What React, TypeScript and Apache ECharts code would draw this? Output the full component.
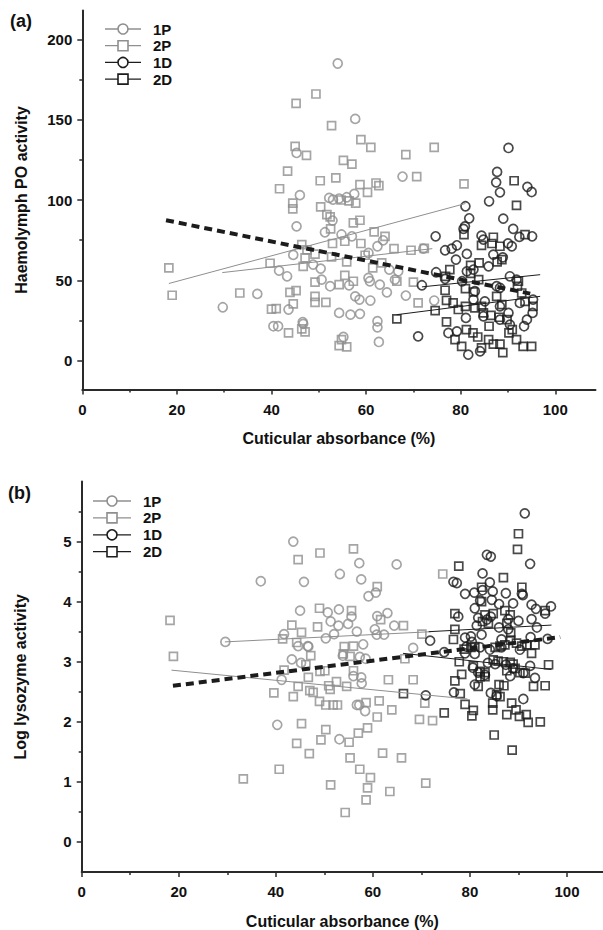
import React, { useEffect, useRef } from "react";
import * as echarts from "echarts";

// ---------- Panel (a): Haemolymph PO activity ----------
const a1P: number[][] = [
  [29.7,33.2],[37,41.5],[41.6,56],[43.3,52.5],[45.3,129.3],[46,103],[45.3,83.6],[44.6,65.8],[40.4,21.4],[41.4,21.4],
  [43.6,31.8],[46.7,22.9],[54,185],[57.7,150.5],[67.7,114.6],[52.2,101.3],[53,100.2],[54.3,100.9],[55.9,101.7],[57.5,103.8],
  [52.9,87.2],[51.3,79.9],[54.8,78.5],[57,77.4],[63.6,74.9],[62.4,71.2],[72.1,69.7],[60.5,67],[48.8,59.8],[50.4,57.3],
  [64.9,56.7],[66.8,55.6],[66.1,50.4],[60.5,51.5],[60.8,49.4],[52.4,46.3],[56.4,46.9],[62.9,47.3],[64.4,42.5],[68.4,40.5],
  [57.7,40],[58.6,38],[60.9,37.4],[74.4,37.4],[54.3,29.7],[56.7,28.6],[58.7,29.1],[62.4,24.5],[62.4,20.7],[46.6,24],
  [62.7,11.6],[55.2,14.7],[50.6,50.4]
];
const a2P: number[][] = [
  [18.3,57.7],[19,40.7],[33.3,42.1],[39.7,60.6],[41,32.4],[40,32],[43.4,118],[41.7,107],[44.5,98],[44.5,94.5],
  [46.4,72.2],[47.1,64],[46.7,58.7],[44.6,35.3],[43.9,42.5],[45.2,43.6],[43.6,17.2],[47.1,17.9],[45.2,160.2],[45,133.4],
  [47.4,127.8],[52.7,146.3],[58.9,137.6],[61,132.8],[74.4,132.8],[68.4,128.3],[55.2,124.7],[57,122.4],[50.3,112],[53.6,113.8],
  [58.7,109.6],[62.1,110.6],[62.7,109],[60.3,104.8],[80.7,110],[70.7,114.6],[54.7,100],[56.4,99.5],[57.8,98],[50.4,95.7],
  [51.7,90.9],[52.4,89.5],[58.7,87.4],[57.3,85.7],[52.5,82],[61.7,80.1],[64,77.4],[55.5,74.3],[58.9,72.9],[52.9,72.9],
  [65.9,69.7],[69.5,68.7],[72.3,69.9],[47.5,69],[59.8,65.6],[55.9,61.5],[52.7,64.6],[49.2,66.3],[63.3,60.8],[61.4,57.7],
  [66.5,49.4],[55.5,53.1],[57.3,49.4],[49.2,48.8],[54.3,47.3],[70,48.8],[49.2,40],[51.5,36.3],[49.2,36.3],[71,35.9],
  [46.4,19.7],[54.3,9.3],[55.9,8.5],[54.8,13],[49.4,166]
];
const a1D: number[][] = [
  [90.1,132.4],[87.7,117.5],[87.5,111],[88.3,104.8],[94.1,108.2],[95,105],[86,99.2],[81,96.1],[81.8,88.6],[89,88.4],
  [80.9,83.6],[80.6,82],[91.1,82],[95.1,77.4],[92.4,77],[74.7,77.4],[84.4,77.8],[84.8,75.3],[79.2,71.8],[78.1,69.7],
  [76.7,68.7],[81.3,66.4],[79,62.9],[86.9,66],[88.9,64.3],[90.8,71.2],[90,73],[85.9,58.7],[74.8,55],[81.3,55.6],
  [82.7,56.7],[76.7,50.9],[71.8,46.9],[80.3,49.4],[90.4,52.5],[91.8,50.4],[87.6,46.3],[88.3,45.3],[83,43.2],[82.7,38],
  [85.1,36.9],[88.3,33.8],[90.1,29.7],[92.5,35.9],[81.1,26.6],[84.8,27.6],[88.3,25.5],[94,25.5],[93.4,21.4],[90.4,22.4],
  [77.4,17.2],[79.2,18.2],[71,15.1],[84.1,5.8],[81.6,3.7],[95.3,38],[95.2,29.7]
];
const a2D: number[][] = [
  [91.3,112],[91.8,96.7],[80.7,78.5],[86.9,76.8],[86.6,72.9],[88.3,71.2],[84.4,71.8],[93.6,78.5],[88.7,62.9],[87.7,61.5],
  [83.9,60.8],[82.1,59.3],[77.7,56.7],[76.8,52.5],[82.1,54.3],[83.8,50.4],[92.2,49.4],[92,46.3],[76.7,43.8],[81,44.8],
  [82.7,42.7],[87.6,40],[92.9,42.1],[77,37.5],[78.4,35.9],[74.6,31.1],[66.5,26],[79.5,31.8],[81,33.8],[83,32.8],
  [88.7,34.9],[93.6,36.9],[95.3,33.8],[84.4,33.8],[84.8,29.7],[77,24.1],[86.4,28.1],[88.1,27],[89.8,25.5],[90.9,19.3],
  [78.8,13],[80.2,8.9],[82.6,17.2],[83.6,14.7],[85.9,13],[86.9,10.2],[88.3,10.2],[88.9,5],[91.8,13],[93.2,8.9],
  [95,8.9],[84.4,7.9],[90.2,17.2],[86,21.4],[81.2,19.3]
];
const aFit1P = [[29.6,54.8],[74,69.7]];
const aFit2P = [[18.3,48],[81,97.8]];
const aFit1D = [[71.8,45.9],[96.8,53.5]];
const aFit2D = [[66.5,28.6],[96.8,40]];
const aFitAll = [[17.7,87.4],[94.7,41.7]];

// ---------- Panel (b): Log lysozyme activity ----------
const b1P: number[][] = [
  [29.6,3.33],[36.9,4.34],[43.6,5.0],[45,3.85],[41.7,3.46],[44.6,3.26],[46.6,3.26],[43.3,3.04],[45.2,2.98],[41.2,2.7],
  [40.3,1.95],[57.2,4.64],[64.9,4.62],[53.2,4.46],[57.6,4.37],[45.8,4.33],[59.1,4.09],[60.6,4.15],[50.7,3.82],[53,3.87],
  [55.6,3.75],[60.9,3.76],[63,3.81],[51.3,3.67],[54.9,3.63],[52.9,3.6],[52,3.46],[50.3,3.39],[56.7,3.5],[60.4,3.54],
  [62.3,3.45],[64.4,3.6],[60.8,3.45],[46.7,3.25],[58,3.29],[68.3,3.23],[53.8,3.1],[57.3,3.08],[58.5,3.05],[56,2.76],
  [57.6,2.74],[57.7,2.64],[56.7,2.28],[58.4,2.18],[57.2,2.28],[53.1,1.71]
];
const b2P: number[][] = [
  [18.2,3.69],[18.9,3.09],[44.6,4.7],[43.3,3.61],[41.4,3.38],[44.3,3.32],[33.3,1.05],[40.7,1.21],[39.6,2.48],[41.7,2.86],
  [43.6,2.42],[45.3,1.97],[44.3,1.64],[46.9,1.47],[49.3,1.7],[50.3,1.87],[51.3,0.95],[44.6,2.59],[46.7,2.74],[47,2.52],
  [47.7,2.49],[49,2.34],[50.3,2.28],[49.1,2.84],[50.1,2.85],[50.9,2.6],[46.2,2.95],[47.2,3.1],[45.3,3.49],[48.6,3.58],
  [49,3.89],[49.1,4.81],[56,4.88],[74.4,4.46],[60.9,4.25],[55.6,3.85],[66.3,3.6],[70.1,3.46],[61.6,3.7],[54.1,3.25],
  [56,3.26],[53.9,3.13],[55.3,3.09],[56,2.85],[66.6,3.05],[63.2,2.7],[68.3,2.7],[52.5,2.67],[54.6,2.59],[51.2,2.54],
  [58.6,2.32],[61.3,2.35],[51.8,2.28],[52.7,2.28],[63.9,2.2],[60.9,2.08],[70.7,2.31],[69.6,2.04],[72.3,2.02],[58.9,1.9],
  [57,1.81],[55.1,1.66],[55.3,1.4],[62,1.48],[65.9,1.4],[57.3,1.21],[59.5,1.07],[58.9,0.9],[58.6,0.7],[63.5,0.84],
  [70.9,0.98],[54.3,0.49]
];
const b1D: number[][] = [
  [83.5,4.78],[84.3,4.75],[92.4,4.63],[82.6,4.47],[76.6,4.33],[77.3,4.31],[84.1,4.32],[84.7,4.17],[79,4.13],[80.9,4.15],
  [82.6,4.19],[87.4,4.14],[90.7,4.13],[90.9,4.11],[84.5,4.03],[82.1,4.02],[86,3.96],[88.9,3.97],[81,3.89],[92.7,3.95],
  [93.6,3.88],[77.6,3.75],[81.7,3.73],[83.5,3.7],[84.3,3.75],[87.9,3.71],[90,3.68],[92.7,3.71],[81.4,3.6],[86,3.57],
  [87.9,3.54],[93.8,3.57],[82.4,3.45],[79,3.4],[80.2,3.42],[80.4,3.33],[71.8,3.35],[86.5,3.37],[92.5,3.41],[79.3,3.25],
  [82.1,3.24],[84.1,3.2],[86.5,3.24],[90.3,3.2],[74.7,3.16],[79,3.14],[81,3.13],[83.7,2.98],[85.2,2.96],[87.4,2.95],
  [88.9,2.89],[92.4,2.93],[80.6,2.9],[81.7,2.82],[83.1,2.78],[88.3,2.76],[91,2.81],[93.4,2.73],[81,2.62],[76.7,2.49],
  [70.9,2.44],[84.3,2.48],[85.5,2.43],[91,2.38],[91.3,5.47],[96.7,3.92],[95.5,3.8],[96,3.38]
];
const b2D: number[][] = [
  [77.7,4.59],[86.9,4.4],[90.7,4.24],[82.4,4.24],[82.4,4],[76.9,3.8],[83.1,3.78],[84.8,3.8],[87.2,3.85],[88.3,3.78],
  [82.6,3.67],[83.8,3.64],[76.9,3.54],[87.6,3.64],[88.4,3.48],[76.6,3.37],[78.8,3.21],[80.2,3.24],[81,3.25],[85.2,3.24],
  [86.2,3.26],[87.2,3.28],[88.4,3.36],[89.6,3.31],[90.7,3.26],[91.7,3.28],[93.4,3.28],[92.7,3.14],[77.8,3],[80.7,2.93],
  [82.1,2.84],[83.1,2.82],[82.1,2.75],[83.1,2.75],[84.8,3.03],[85.8,3.01],[86.9,3],[88.3,2.99],[88.9,2.96],[89.3,2.89],
  [87.6,2.85],[90.3,2.82],[91.4,2.81],[93.1,2.59],[78.3,2.79],[76.9,2.68],[81.7,2.59],[86,2.62],[87,2.6],[66.3,2.47],
  [78,2.47],[85.5,2.45],[86.2,2.42],[84.7,2.31],[84.7,2.2],[79,2.29],[74.7,2.15],[80.7,2.19],[80.4,2.1],[88.6,2.31],
  [89.5,2.2],[87.6,2.12],[90.2,2.09],[91.6,2.12],[92,1.99],[85,1.78],[88.7,1.53],[90,5.13],[89.8,4.87],[95.5,3.85],
  [96.2,2.95],[95.5,2.6],[94.5,2.0]
];
const bFit1P = [[29.5,3.33],[72,3.5]];
const bFit2P = [[18.5,2.86],[79.5,2.38]];
const bFit1D = [[71.5,3.5],[96.8,3.61]];
const bFit2D = [[66.2,3.14],[96.8,2.87]];
const bFitAll = [[18.8,2.6],[98.6,3.41]];

// ---------- tick labels ----------
const xTicks = [0, 20, 40, 60, 80, 100];
const xMinor = [10, 30, 50, 70, 90];
const aYTicks = [0, 50, 100, 150, 200];
const aYMinor = [25, 75, 125, 175];
const bYTicks = [0, 1, 2, 3, 4, 5];
const bYMinor = [0.5, 1.5, 2.5, 3.5, 4.5, 5.5];
const legendNames = ["1P", "2P", "1D", "2D"];

const GRAY = "#8f8f8f";
const BLACK = "#1c1c1c";
const AXIS = "#2a2a2a";
const FONT = "'Liberation Sans', Arial, Helvetica, sans-serif";

export default function App() {
  const ref = useRef<HTMLDivElement>(null);
  useEffect(() => {
    if (!ref.current) return;
    const chart = echarts.init(ref.current, undefined, { renderer: "svg" });

    const mainX = (gi: number, max: number) => ({
      type: "value", gridIndex: gi, min: 0, max, position: "bottom",
      name: "Cuticular absorbance (%)", nameLocation: "middle", nameGap: 41,
      nameTextStyle: { fontFamily: FONT, fontWeight: "bold", fontSize: 16, color: "#111" },
      axisLine: { show: true, onZero: false, lineStyle: { color: AXIS, width: 2 } },
      axisTick: { show: true, inside: false, length: 5, customValues: xTicks, lineStyle: { color: AXIS, width: 1.5 } },
      axisLabel: { customValues: xTicks, margin: 12, fontFamily: FONT, fontWeight: "bold", fontSize: 15, color: "#111" },
      splitLine: { show: false },
    });
    const minorX = (gi: number, max: number) => ({
      type: "value", gridIndex: gi, min: 0, max, position: "bottom", offset: 0,
      axisLine: { show: false, onZero: false },
      axisTick: { show: true, length: 3, customValues: xMinor, lineStyle: { color: AXIS, width: 1.5 } },
      axisLabel: { show: false }, splitLine: { show: false },
    });
    const mainY = (gi: number, min: number, max: number, name: string, ticks: number[], gap: number) => ({
      type: "value", gridIndex: gi, min, max, position: "left",
      name, nameLocation: "middle", nameGap: gap, nameRotate: 90,
      nameTextStyle: { fontFamily: FONT, fontWeight: "bold", fontSize: 16, color: "#111" },
      axisLine: { show: true, onZero: false, lineStyle: { color: AXIS, width: 2 } },
      axisTick: { show: true, length: 5, customValues: ticks, lineStyle: { color: AXIS, width: 1.5 } },
      axisLabel: { customValues: ticks, margin: 10, fontFamily: FONT, fontWeight: "bold", fontSize: 15, color: "#111" },
      splitLine: { show: false },
    });
    const minorY = (gi: number, min: number, max: number, ticks: number[]) => ({
      type: "value", gridIndex: gi, min, max, position: "left", offset: 0,
      axisLine: { show: false, onZero: false },
      axisTick: { show: true, length: 3, customValues: ticks, lineStyle: { color: AXIS, width: 1.5 } },
      axisLabel: { show: false }, splitLine: { show: false },
    });

    const scatter = (data: number[][], xi: number, yi: number, symbol: string, color: string, size: number) => ({
      type: "scatter", xAxisIndex: xi, yAxisIndex: yi, data, symbol, symbolSize: size,
      itemStyle: { color: "transparent", borderColor: color, borderWidth: 1.7 },
      emphasis: { disabled: true }, silent: true, z: 3,
    });
    const fit = (data: number[][], xi: number, yi: number, color: string, width: number, dashed = false) => ({
      type: "line", xAxisIndex: xi, yAxisIndex: yi, data, symbol: "none", silent: true, z: dashed ? 5 : 4,
      lineStyle: { color, width, type: dashed ? [8, 5] : "solid" },
    });

    const legend = (x0: number, y0: number, dy: number, lineLen: number, textX: number) => {
      const els: any[] = [];
      legendNames.forEach((nm, i) => {
        const y = y0 + i * dy;
        const c = i < 2 ? GRAY : BLACK;
        const cx = x0 + lineLen / 2;
        els.push({ type: "line", shape: { x1: x0, y1: y, x2: x0 + lineLen, y2: y }, style: { stroke: c, lineWidth: 1.3 } });
        if (i % 2 === 0) {
          els.push({ type: "circle", shape: { cx, cy: y, r: 5 }, style: { fill: "#fff", stroke: c, lineWidth: 1.6 }, z: 10 });
        } else {
          els.push({ type: "rect", shape: { x: cx - 5, y: y - 5, width: 10, height: 10 }, style: { fill: "#fff", stroke: c, lineWidth: 1.6 }, z: 10 });
        }
        els.push({ type: "text", x: textX, y, style: { text: nm, fill: "#111", font: `bold 15px ${FONT}`, textVerticalAlign: "middle" }, z: 10 });
      });
      return els;
    };

    const option: any = {
      animation: false,
      backgroundColor: "#fff",
      grid: [
        { left: 82.3, top: 10.5, width: 513.2, height: 379 },
        { left: 81.7, top: 481.5, width: 521.2, height: 390.8 },
      ],
      xAxis: [mainX(0, 108.5), minorX(0, 108.5), mainX(1, 107.4), minorX(1, 107.4)],
      yAxis: [
        mainY(0, -18, 218, "Haemolymph PO activity", aYTicks, 53),
        minorY(0, -18, 218, aYMinor),
        mainY(1, -0.5, 6, "Log lysozyme activity", bYTicks, 53),
        minorY(1, -0.5, 6, bYMinor),
      ],
      series: [
        scatter(a1P, 0, 0, "circle", GRAY, 9),
        scatter(a2P, 0, 0, "rect", GRAY, 8),
        scatter(a1D, 0, 0, "circle", BLACK, 9),
        scatter(a2D, 0, 0, "rect", BLACK, 8),
        fit(aFit1P, 0, 0, GRAY, 1),
        fit(aFit2P, 0, 0, GRAY, 1),
        fit(aFit1D, 0, 0, BLACK, 1),
        fit(aFit2D, 0, 0, BLACK, 1),
        fit(aFitAll, 0, 0, BLACK, 4, true),
        scatter(b1P, 2, 2, "circle", GRAY, 9),
        scatter(b2P, 2, 2, "rect", GRAY, 8),
        scatter(b1D, 2, 2, "circle", BLACK, 9),
        scatter(b2D, 2, 2, "rect", BLACK, 8),
        fit(bFit1P, 2, 2, GRAY, 1),
        fit(bFit2P, 2, 2, GRAY, 1),
        fit(bFit1D, 2, 2, BLACK, 1),
        fit(bFit2D, 2, 2, BLACK, 1),
        fit(bFitAll, 2, 2, BLACK, 4, true),
      ],
      graphic: [
        { type: "text", x: 10, y: 21, style: { text: "(a)", fill: "#111", font: `bold 18px ${FONT}`, textVerticalAlign: "middle" } },
        { type: "text", x: 8, y: 493, style: { text: "(b)", fill: "#111", font: `bold 18px ${FONT}`, textVerticalAlign: "middle" } },
        ...legend(105, 29, 16.7, 36, 153),
        ...legend(93, 501, 16.9, 38, 143),
      ],
    };
    chart.setOption(option);
    return () => chart.dispose();
  }, []);
  return <div ref={ref} style={{ position: "absolute", left: 0, top: 0, width: 603, height: 930 }} />;
}
